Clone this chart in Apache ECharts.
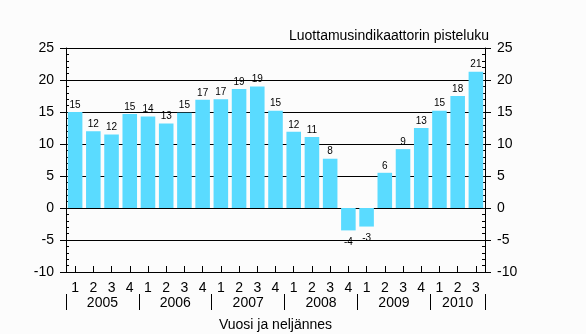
<!DOCTYPE html>
<html>
<head>
<meta charset="utf-8">
<script src="https://cdn.jsdelivr.net/npm/echarts@6/dist/echarts.min.js"></script>
<style>
html,body{margin:0;padding:0;background:#fcfcfc;}
#c{width:586px;height:334px;}
</style>
</head>
<body>
<div id="c"></div>
<script>
// Data
const quarters = ['1','2','3','4','1','2','3','4','1','2','3','4','1','2','3','4','1','2','3','4','1','2','3'];
const values = [15.0, 12.0, 11.5, 14.7, 14.3, 13.2, 14.9, 16.9, 17.0, 18.6, 19.0, 15.2, 11.9, 11.1, 7.7, -3.5, -2.9, 5.5, 9.2, 12.5, 15.2, 17.5, 21.3];
const years = ['2005','2006','2007','2008','2009','2010'];
const yearBounds = [0, 4, 8, 12, 16, 20, 23];
const yTicks = [-10, -5, 0, 5, 10, 15, 20, 25];
const titleText = 'Luottamusindikaattorin pisteluku';
const xName = 'Vuosi ja neljännes';

const FONT = '"Liberation Sans", Arial, sans-serif';
const BLACK = '#000';
const yearCenters = years.map((y, i) => (yearBounds[i] + yearBounds[i + 1]) / 2);

function fmtLabel(v) {
  return (v < 0 ? '-' : '') + Math.round(Math.abs(v));
}

const barData = values.map(v => ({
  value: v,
  label: v < 0 ? { position: 'bottom', distance: 7 } : { position: 'top', distance: 2 }
}));

function majorY(pos, withSplit) {
  return {
    type: 'value', position: pos,
    min: yTicks[0], max: yTicks[yTicks.length - 1], interval: 5,
    axisLine: { show: true, onZero: false, lineStyle: { color: BLACK, width: 1 } },
    axisTick: { show: true, inside: false, length: 6, lineStyle: { color: BLACK } },
    axisLabel: { show: true, color: BLACK, fontSize: 14, fontFamily: FONT, margin: 12 },
    splitLine: { show: withSplit, lineStyle: { color: BLACK, width: 1 } },
    minorTick: { show: false }
  };
}
function minorY(pos) {
  return {
    type: 'value', position: pos,
    min: yTicks[0], max: yTicks[yTicks.length - 1], interval: 5,
    axisLine: { show: false, onZero: false },
    axisTick: { show: true, inside: true, length: 3, lineStyle: { color: BLACK } },
    axisLabel: { show: false },
    splitLine: { show: false },
    minorTick: { show: true, splitNumber: 5, length: 3, lineStyle: { color: BLACK } }
  };
}

const chart = echarts.init(document.getElementById('c'), null, { renderer: 'canvas' });
chart.setOption({
  backgroundColor: '#fcfcfc',
  animation: false,
  title: {
    text: titleText, right: 97, top: 29, padding: 0,
    textStyle: { fontFamily: FONT, fontSize: 14, fontWeight: 'normal', color: BLACK }
  },
  grid: { left: 66, right: 101, top: 48, bottom: 62, containLabel: false, outerBoundsMode: 'none' },
  xAxis: [
    {
      type: 'category', data: quarters, position: 'bottom',
      axisLine: { show: true, onZero: false, lineStyle: { color: BLACK, width: 1 } },
      axisTick: { show: true, inside: true, length: 6, alignWithLabel: true, lineStyle: { color: BLACK } },
      axisLabel: { color: BLACK, fontSize: 14, fontFamily: FONT, margin: 9, interval: 0 },
      splitLine: { show: false }
    },
    {
      type: 'value', position: 'bottom', offset: 22,
      min: 0, max: 23,
      axisLine: { show: false, onZero: false },
      axisTick: { show: true, length: 16, customValues: yearBounds, lineStyle: { color: BLACK, width: 1 } },
      axisLabel: {
        show: true, customValues: yearCenters, color: BLACK, fontSize: 14, fontFamily: FONT, margin: 2,
        formatter: v => { const i = yearCenters.indexOf(v); return i >= 0 ? years[i] : ''; }
      },
      splitLine: { show: false },
      name: xName, nameLocation: 'middle', nameGap: 24,
      nameTextStyle: { color: BLACK, fontSize: 14, fontFamily: FONT }
    }
  ],
  yAxis: [majorY('left', true), minorY('left'), majorY('right', false), minorY('right')],
  series: [{
    type: 'bar', xAxisIndex: 0, yAxisIndex: 0,
    data: barData,
    barCategoryGap: '20%',
    itemStyle: { color: '#5ADBFF' },
    label: {
      show: true, color: BLACK, fontSize: 10, fontFamily: FONT,
      formatter: p => fmtLabel(p.value)
    }
  }]
});
</script>
</body>
</html>
